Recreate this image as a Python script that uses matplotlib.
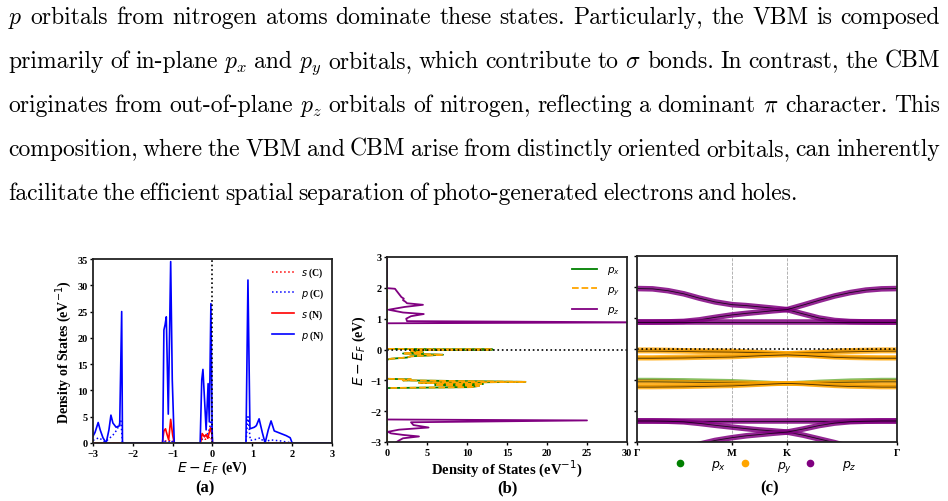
import numpy as np
import matplotlib
matplotlib.use('Agg')
import matplotlib.pyplot as plt
from matplotlib.lines import Line2D

# ---- paragraph text ----
para_lines = [
    r"$p$ orbitals from nitrogen atoms dominate these states.  Particularly, the VBM is composed",
    r"primarily of in-plane $p_x$ and $p_y$ orbitals, which contribute to $\sigma$ bonds. In contrast, the CBM",
    r"originates from out-of-plane $p_z$ orbitals of nitrogen, reflecting a dominant $\pi$ character. This",
    r"composition, where the VBM and CBM arise from distinctly oriented orbitals, can inherently",
    r"facilitate the efficient spatial separation of photo-generated electrons and holes.",
]

# ---- (a) projected DOS, C and N ----
e_pN = [-3.0, -2.95, -2.87, -2.82, -2.75, -2.67, -2.6, -2.55, -2.5, -2.42, -2.33, -2.28, -2.26,
        -1.25, -1.22, -1.19, -1.16, -1.11, -1.05, -1.01, -0.96,
        -0.31, -0.27, -0.24, -0.16, -0.11, -0.08, -0.04, -0.01, 0.0,
        0.84, 0.89, 0.94, 1.05, 1.1, 1.17, 1.25, 1.32, 1.4, 1.47, 1.55, 1.65, 1.75, 1.85, 1.95, 2.0, 3.0]
dos_pN = [1.3, 2.0, 3.9, 2.5, 1.0, 0.0, 2.5, 5.3, 3.8, 3.0, 3.3, 25.0, 0.0,
          0.0, 21.5, 22.5, 24.0, 5.5, 34.5, 12.0, 0.0,
          0.0, 12.0, 14.0, 2.5, 11.3, 4.0, 26.5, 3.0, 0.0,
          0.0, 31.0, 2.7, 3.0, 3.3, 4.6, 2.0, 0.0, 2.5, 4.2, 2.3, 2.0, 1.7, 1.4, 1.0, 0.0, 0.0]

e_pC = [-3.0, -2.85, -2.7, -2.6, -2.5, -2.4, -2.3, -2.26, -1.25, -1.2, -1.1, -1.05, -0.96,
        -0.31, -0.25, -0.15, -0.1, -0.03, 0.0, 0.84, 0.89, 0.95, 1.1, 1.2, 1.3, 1.45, 1.7, 2.0, 3.0]
dos_pC = [0.5, 1.0, 0.2, 0.8, 1.5, 2.5, 4.2, 0.0, 0.0, 0.3, 0.2, 0.5, 0.0,
          0.0, 1.0, 1.5, 2.0, 4.3, 0.0, 0.0, 5.0, 0.5, 0.7, 1.0, 0.1, 0.6, 0.4, 0.0, 0.0]

e_sC = [-3.0, -1.25, -1.2, -1.1, -1.05, -0.96, -0.31, -0.25, -0.18, -0.1, -0.04, 0.0, 3.0]
dos_sC = [0.0, 0.0, 0.4, 0.3, 0.6, 0.0, 0.0, 0.9, 0.7, 1.0, 1.2, 0.0, 0.0]

e_sN = [-3.0, -1.26, -1.22, -1.18, -1.14, -1.1, -1.05, -1.0, -0.96,
        -0.3, -0.26, -0.2, -0.16, -0.12, -0.05, -0.01, 0.0, 3.0]
dos_sN = [0.0, 0.0, 2.3, 2.7, 1.6, 0.6, 4.5, 1.5, 0.0,
          0.0, 1.8, 1.2, 1.6, 0.9, 2.9, 1.5, 0.0, 0.0]

# ---- (b) orbital-resolved DOS ----
e_pxy = [-3.0, -1.25, -1.22, -1.18, -1.15, -1.12, -1.08, -1.05, -1.0, -0.97, -0.95,
         -0.33, -0.3, -0.26, -0.22, -0.17, -0.13, -0.09, -0.05, -0.02, 0.0, 0.02, 3.0]
dos_px = [0.0, 0.0, 10.5, 11.5, 6.0, 12.0, 4.0, 17.3, 2.0, 3.0, 0.0,
          0.0, 0.5, 2.5, 3.0, 7.0, 2.0, 4.5, 3.0, 4.0, 13.2, 0.0, 0.0]
dos_py = [0.0, 0.0, 10.5, 11.5, 6.0, 12.0, 4.0, 17.3, 2.0, 3.0, 0.0,
          0.0, 0.5, 2.5, 3.0, 7.0, 2.0, 4.5, 3.0, 4.0, 13.2, 0.0, 0.0]

e_pz = [-3.0, -2.95, -2.88, -2.82, -2.77, -2.72, -2.67, -2.6, -2.53, -2.45, -2.36, -2.3, -2.27,
        0.85, 0.88, 0.92, 1.0, 1.08, 1.15, 1.2, 1.29, 1.38, 1.45, 1.5, 1.55, 1.6, 1.65, 1.7,
        1.8, 1.9, 1.97, 1.99, 3.0]
dos_pz = [1.2, 1.5, 2.0, 4.0, 2.0, 0.5, 0.1, 1.5, 5.2, 3.3, 3.0, 25.0, 0.0,
          0.0, 33.0, 2.5, 2.4, 3.0, 4.6, 2.0, 0.2, 2.2, 4.5, 2.5, 2.3, 2.0, 2.1, 1.8,
          1.5, 1.2, 1.0, 0.0, 0.0]

# ---- (c) fat bands ----
kpath = [0.0, 0.06, 0.12, 0.18, 0.24, 0.30, 0.366, 0.42, 0.47, 0.52, 0.577,
         0.64, 0.70, 0.76, 0.82, 0.88, 0.94, 1.0]
k_ticks = [0.0, 0.366, 0.577, 1.0]
k_labels = ['Γ', 'M', 'K', 'Γ']

bands_pz = [
    [1.95, 1.94, 1.88, 1.78, 1.64, 1.52, 1.43, 1.40, 1.36, 1.32, 1.27, 1.13, 1.00, 0.92, 0.885, 0.875, 0.87, 0.87],
    [0.87, 0.87, 0.875, 0.89, 0.94, 1.02, 1.10, 1.15, 1.19, 1.23, 1.27, 1.42, 1.57, 1.71, 1.82, 1.90, 1.94, 1.95],
    [0.87, 0.87, 0.87, 0.87, 0.87, 0.87, 0.87, 0.87, 0.87, 0.87, 0.87, 0.87, 0.87, 0.87, 0.87, 0.87, 0.87, 0.87],
    [-2.32, -2.32, -2.32, -2.32, -2.32, -2.32, -2.32, -2.32, -2.32, -2.32, -2.32, -2.32, -2.32, -2.32, -2.32, -2.32, -2.32, -2.32],
    [-2.32, -2.32, -2.33, -2.35, -2.40, -2.46, -2.52, -2.57, -2.61, -2.64, -2.68, -2.78, -2.90, -3.02, -3.16, -3.28, -3.35, -3.38],
    [-3.38, -3.37, -3.31, -3.21, -3.07, -2.95, -2.86, -2.80, -2.76, -2.72, -2.68, -2.58, -2.47, -2.39, -2.345, -2.33, -2.32, -2.32],
]
bands_pxy = [
    [-0.02, -0.02, -0.03, -0.04, -0.05, -0.055, -0.06, -0.08, -0.10, -0.12, -0.14, -0.12, -0.09, -0.06, -0.04, -0.03, -0.02, -0.02],
    [-0.07, -0.07, -0.075, -0.08, -0.09, -0.095, -0.10, -0.11, -0.12, -0.13, -0.14, -0.13, -0.12, -0.10, -0.09, -0.08, -0.07, -0.07],
    [-0.27, -0.27, -0.26, -0.25, -0.24, -0.23, -0.22, -0.21, -0.20, -0.195, -0.19, -0.20, -0.22, -0.24, -0.255, -0.265, -0.27, -0.27],
    [-0.30, -0.30, -0.295, -0.29, -0.28, -0.27, -0.26, -0.24, -0.22, -0.205, -0.19, -0.21, -0.24, -0.27, -0.285, -0.295, -0.30, -0.30],
    [-1.00, -1.00, -1.005, -1.01, -1.02, -1.03, -1.04, -1.06, -1.08, -1.10, -1.11, -1.09, -1.06, -1.04, -1.02, -1.01, -1.00, -1.00],
    [-1.06, -1.06, -1.065, -1.07, -1.075, -1.08, -1.085, -1.09, -1.10, -1.105, -1.11, -1.10, -1.09, -1.08, -1.07, -1.065, -1.06, -1.06],
    [-1.19, -1.19, -1.185, -1.18, -1.17, -1.16, -1.15, -1.14, -1.13, -1.12, -1.11, -1.12, -1.14, -1.16, -1.17, -1.18, -1.19, -1.19],
    [-1.23, -1.23, -1.225, -1.22, -1.21, -1.20, -1.19, -1.17, -1.15, -1.13, -1.11, -1.13, -1.16, -1.19, -1.21, -1.22, -1.23, -1.23],
]
pxy_colors = ['orange', 'orange', 'orange', 'orange', '#6cae3a', 'orange', 'orange', 'orange']

W, H, DPI = 948, 502, 100
plt.rcParams['font.family'] = ['Liberation Serif', 'DejaVu Serif']
plt.rcParams['mathtext.fontset'] = 'dejavusans'
plt.rcParams['axes.linewidth'] = 1.3
plt.rcParams['axes.edgecolor'] = '#222222'

fig = plt.figure(figsize=(W / DPI, H / DPI), dpi=DPI)


def px_axes(l, t, r, b):
    return fig.add_axes([l / W, 1 - b / H, (r - l) / W, (b - t) / H])


def bold_ticks(ax):
    for t in ax.get_xticklabels() + ax.get_yticklabels():
        t.set_fontweight('bold')


# paragraph, justified word by word
rend = fig.canvas.get_renderer()
FS = 17
X0 = 8
line_ends = [940, 940, 940, 940, 798]
baselines = [24, 68, 112, 156, 200]
for i, line in enumerate(para_lines):
    words = line.split()
    objs = [fig.text(0, 1 - baselines[i] / H, w, fontsize=FS, family='cmr10',
                     math_fontfamily='cm', va='baseline') for w in words]
    ws = [o.get_window_extent(renderer=rend).width for o in objs]
    gap = (line_ends[i] - X0 - sum(ws)) / (len(ws) - 1)
    x = X0
    for o, w in zip(objs, ws):
        o.set_x(x / W)
        x += w + gap

tick_fs = 7.5
lab_fs = 10

# (a)
ax1 = px_axes(93, 260, 332, 444)
ax1.plot(e_sC, dos_sC, color='red', ls=':', lw=1.1, label='$s$ (C)')
ax1.plot(e_pC, dos_pC, color='blue', ls=':', lw=1.1, label='$p$ (C)')
ax1.plot(e_sN, dos_sN, color='red', lw=1.2, label='$s$ (N)')
ax1.plot(e_pN, dos_pN, color='blue', lw=1.2, label='$p$ (N)')
ax1.axvline(0, color='black', ls=':', lw=1.2)
ax1.set_xlim(-3, 3)
ax1.set_ylim(0, 35)
ax1.set_xticks(range(-3, 4))
ax1.set_yticks(range(0, 36, 5))
ax1.tick_params(labelsize=tick_fs, length=2.5, width=1, pad=1.5)
bold_ticks(ax1)
ax1.set_xlabel('$E - E_F$ (eV)', fontsize=lab_fs, fontweight='bold', labelpad=1)
ax1.set_ylabel('Density of States (eV$^{-1}$)', fontsize=10, fontweight='bold', labelpad=2)
ax1.legend(loc='upper right', frameon=False, prop={'size': 7, 'weight': 'bold'},
           handlelength=2.2, labelspacing=0.75, borderaxespad=0.3, handletextpad=0.8)

# (b)
ax2 = px_axes(387, 258, 627, 443)
ax2.plot(dos_px, e_pxy, color='green', lw=1.3, label='$p_x$')
ax2.plot(dos_py, e_pxy, color='orange', ls='--', lw=1.3, label='$p_y$')
ax2.plot(dos_pz, e_pz, color='purple', lw=1.3, label='$p_z$')
ax2.axhline(0, color='black', ls=':', lw=1.2)
ax2.set_xlim(0, 30)
ax2.set_ylim(-3, 3)
ax2.set_xticks(range(0, 31, 5))
ax2.set_yticks(range(-3, 4))
ax2.tick_params(labelsize=tick_fs, length=2.5, width=1, pad=1.5)
bold_ticks(ax2)
ax2.set_xlabel('Density of States (eV$^{-1}$)', fontsize=10.5, fontweight='bold', labelpad=1)
ax2.set_ylabel('$E - E_F$ (eV)', fontsize=lab_fs, fontweight='bold', labelpad=2)
ax2.legend(loc='upper right', frameon=False, fontsize=7.5, handlelength=2.4,
           labelspacing=0.75, borderaxespad=0.3, handletextpad=0.9)

# (c)
ax3 = px_axes(637, 257, 897, 443)
for kv in k_ticks[1:-1]:
    ax3.axvline(kv, color='gray', ls='--', lw=0.6, alpha=0.7)
for b in bands_pz:
    ax3.plot(kpath, b, color='purple', lw=4, alpha=0.85, solid_capstyle='butt')
    ax3.plot(kpath, b, color='black', lw=0.6, alpha=0.8)
for b, c in zip(bands_pxy, pxy_colors):
    ax3.plot(kpath, b, color=c, lw=3.2, alpha=0.8, solid_capstyle='butt')
    ax3.plot(kpath, b, color='black', lw=0.6, alpha=0.7)
ax3.axhline(0, color='black', ls=':', lw=1.2)
ax3.set_xlim(0, 1)
ax3.set_ylim(-3, 3)
ax3.set_xticks(k_ticks)
ax3.set_xticklabels(k_labels)
ax3.set_yticks(range(-3, 4))
ax3.set_yticklabels([])
ax3.tick_params(labelsize=tick_fs, length=2.5, width=1, pad=1.5)
bold_ticks(ax3)

handles = [Line2D([], [], marker='o', ls='', color=c, markersize=4.5)
           for c in ['green', 'orange', 'purple']]
fig.legend(handles, ['$p_x$', '$p_y$', '$p_z$'], loc='center',
           bbox_to_anchor=(762 / W, 1 - 467 / H), ncol=3, frameon=False,
           fontsize=9, handletextpad=1.5, columnspacing=0.5)

for lab, xc in [('(a)', 205), ('(b)', 507), ('(c)', 770)]:
    fig.text(xc / W, 1 - 488 / H, lab, fontsize=12, fontweight='bold', ha='center', va='center')

fig.savefig('out.png', dpi=DPI)
